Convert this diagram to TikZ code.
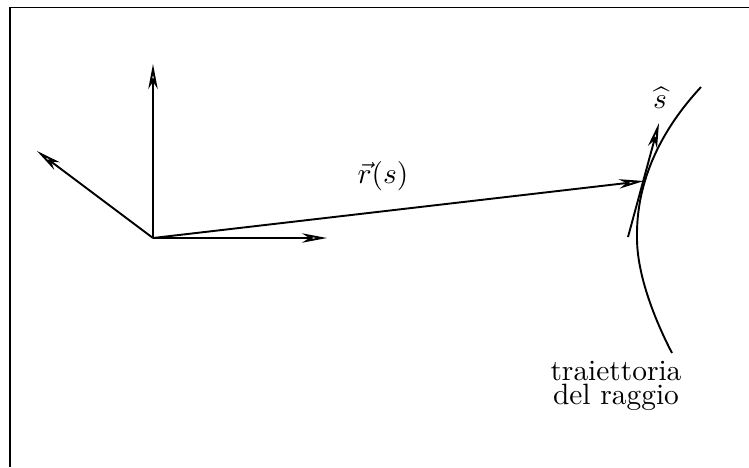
\documentclass[tikz,border=0pt]{standalone}
\usetikzlibrary{arrows.meta}
\begin{document}
\begin{tikzpicture}[x=0.34pt,y=-0.34pt,
  ln/.style={line width=0.65pt},
  vec/.style={ln,-{Stealth[open,length=8.5pt,width=3.2pt,inset=2.5pt]}},
  lbl/.style={inner sep=0pt}]
\useasboundingbox (0,0) rectangle (749,467);
\draw[ln] (749,7.5) -- (10,7.5) -- (10,467);
% coordinates
\coordinate (O) at (153,238);
\coordinate (ey) at (153,64);
\coordinate (el) at (37,151);
\coordinate (ex) at (327,238);
\coordinate (P) at (644,181);
\coordinate (Tb) at (628,237);
\coordinate (Tt) at (659,123);
\coordinate (Ca) at (701,87);
\coordinate (Cm) at (637,238);
\coordinate (Cb) at (672,353);
% vectors
\draw[vec] (O) -- (ey);
\draw[vec] (O) -- (el);
\draw[vec] (O) -- (ex);
\draw[vec] (O) -- (P);
\draw[vec] (Tb) -- (Tt);
% trajectory
\draw[ln] (Ca) .. controls (662,129) and (636,180) .. (Cm)
          .. controls (637,280) and (660,330) .. (Cb);
% labels
\node[lbl] (rs) at (383,176) {$\vec r(s)$};
\node[lbl] (sh) at (660,98) {$\widehat{s}$};
\node[lbl,align=center] (traj) at (616,386) {traiettoria\\[-4pt]del raggio};
\end{tikzpicture}
\end{document}
